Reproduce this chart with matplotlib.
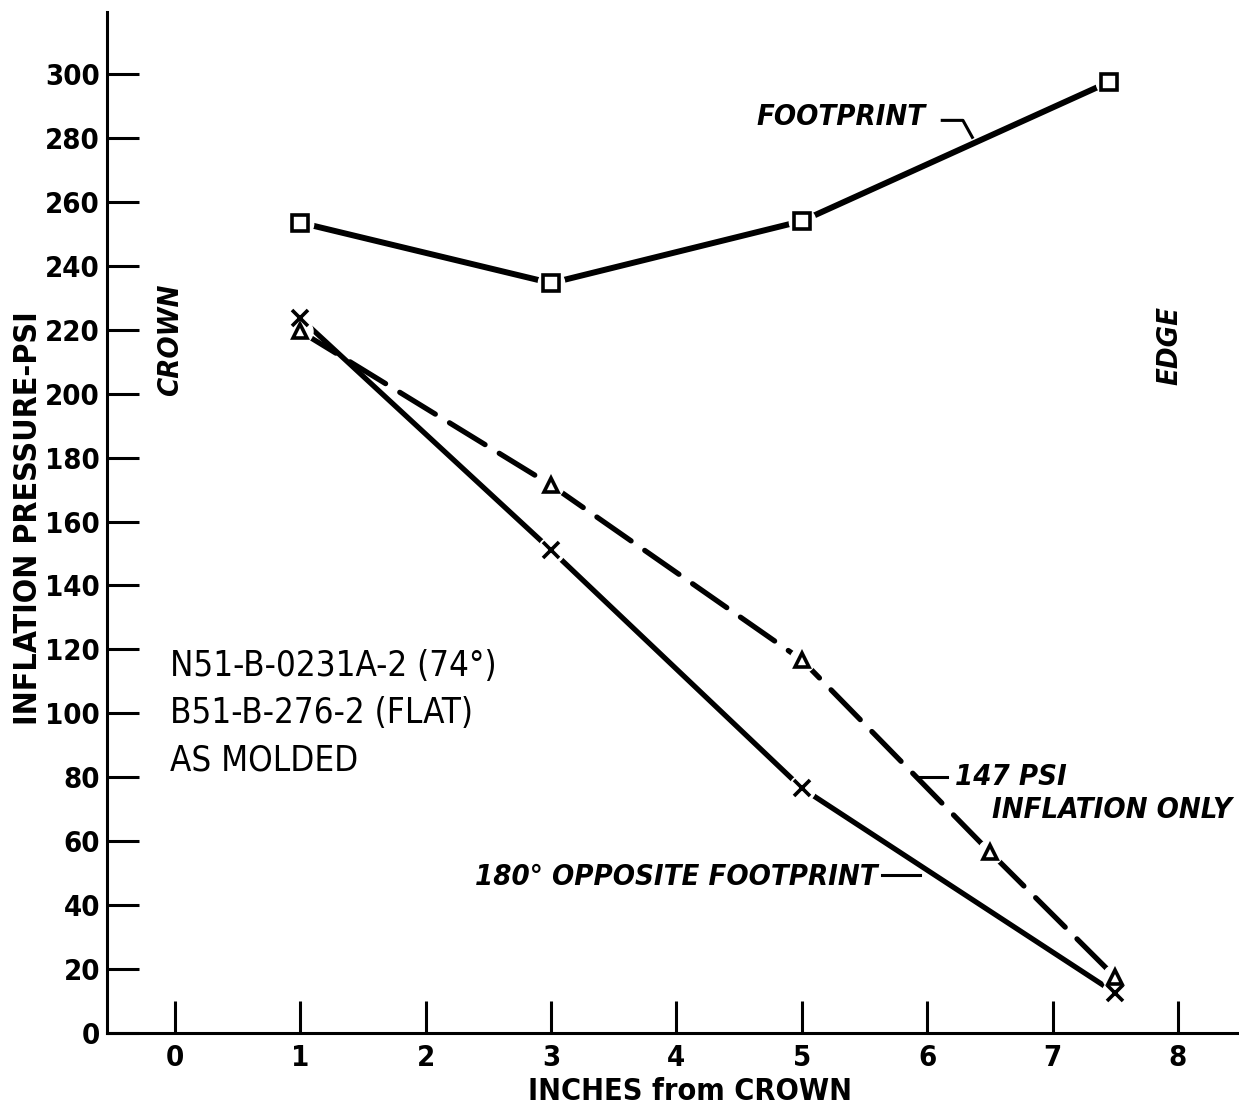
import matplotlib
matplotlib.use("Agg")
import matplotlib.pyplot as plt

plt.rcParams['font.family'] = ['DejaVu Sans']
plt.rcParams['font.stretch'] = 'condensed'
plt.rcParams['lines.scale_dashes'] = False

# data
footprint_x = [1, 3, 5, 7.45]
footprint_y = [253.5, 234.6, 254.0, 297.5]

inflation_x = [1, 3, 5, 6.5, 7.5]
inflation_y = [219.5, 171.4, 116.7, 56.6, 17.5]

opposite_x = [1, 3, 5, 7.5]
opposite_y = [223.6, 151.1, 76.6, 12.5]

x_ticks = [0, 1, 2, 3, 4, 5, 6, 7, 8]
y_ticks = list(range(0, 301, 20))

fig = plt.figure(figsize=(12.39, 11.11), dpi=100)
ax = fig.add_axes([107 / 1239, 1 - 1033 / 1111, 1132 / 1239, 1021 / 1111])


def series(x, y, marker, ms, lw, dashes=None):
    line, = ax.plot(x, y, color='k', lw=lw, solid_capstyle='round',
                    dash_capstyle='round', zorder=2)
    if dashes:
        line.set_dashes(dashes)
    # white halo so the line stops short of each symbol
    ax.plot(x, y, ls='none', marker='o', ms=ms + 8, mfc='white',
            mec='white', zorder=3)
    return x, y, marker, ms


marks = [
    series(footprint_x, footprint_y, 's', 11, 4.3),
    series(inflation_x, inflation_y, '^', 10, 3.8, dashes=(30, 12)),
    series(opposite_x, opposite_y, 'x', 11, 3.8),
]
for x, y, marker, ms in marks:
    ax.plot(x, y, ls='none', marker=marker, ms=ms, mfc='white', mec='k',
            mew=2.6, zorder=4)

ax.set_xlim(-0.542, 8.487)
ax.set_ylim(0, 319.4)
ax.set_xticks(x_ticks)
ax.set_yticks(y_ticks)
ax.tick_params(axis='both', direction='in', length=23, width=2.2,
               labelsize=21)
ax.tick_params(axis='x', pad=8)
ax.tick_params(axis='y', pad=5)
for lbl in ax.get_xticklabels() + ax.get_yticklabels():
    lbl.set_fontweight('bold')
for side in ['top', 'right']:
    ax.spines[side].set_visible(False)
for side in ['left', 'bottom']:
    ax.spines[side].set_linewidth(2.2)

ax.set_xlabel('INCHES from CROWN', fontsize=22, fontweight='bold')
ax.xaxis.set_label_coords(0.515, -0.043)
ax.set_ylabel('INFLATION PRESSURE-PSI', fontsize=23, fontweight='bold')
ax.yaxis.set_label_coords(-0.056, 0.504)

ax.text(-0.04, 217, 'CROWN', rotation=90, style='italic', fontsize=21,
        fontweight='bold', ha='center', va='center')
ax.text(7.93, 215, 'EDGE', rotation=90, style='italic', fontsize=21,
        fontweight='bold', ha='center', va='center')

ax.text(-0.04, 100, 'N51-B-0231A-2 (74°)\nB51-B-276-2 (FLAT)\nAS MOLDED',
        fontsize=25, ha='left', va='center', linespacing=1.5)

ann = dict(style='italic', fontsize=21, fontweight='bold', ha='left',
           va='center')
ax.text(4.64, 286.5, 'FOOTPRINT', **ann)
ax.plot([6.12, 6.285, 6.36], [285.5, 285.5, 280.2], color='k', lw=2.2)

ax.text(6.22, 80, '147 PSI', **ann)
ax.plot([5.94, 6.16], [80, 80], color='k', lw=2.2)
ax.text(6.52, 69.8, 'INFLATION ONLY', **ann)

ax.text(2.39, 48.9, '180° OPPOSITE FOOTPRINT', **ann)
ax.plot([5.64, 5.94], [49.4, 49.4], color='k', lw=2.2)

fig.savefig('out.png', dpi=100, facecolor='white')
